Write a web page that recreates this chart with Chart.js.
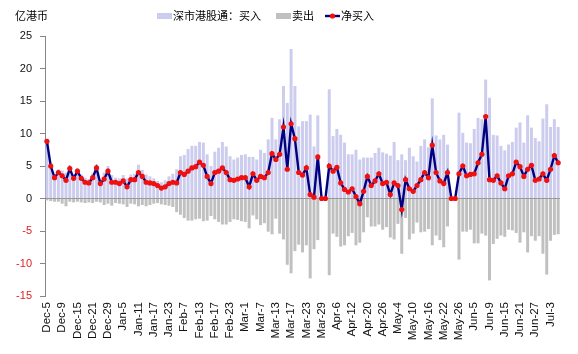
<!DOCTYPE html>
<html>
<head>
<meta charset="utf-8">
<script src="https://cdn.jsdelivr.net/npm/chart.js@4.4.0/dist/chart.umd.min.js"></script>
<style>
    body { margin: 0; background: #fff; }
    #wrap { width: 578px; height: 354px; }
</style>
</head>
<body>
<div id="wrap"><canvas id="myChart" width="578" height="354"></canvas></div>
<script>
// tick labels shown on the x axis, one every 4 trading days
var tickLabels = ['Dec-5', 'Dec-9', 'Dec-15', 'Dec-21', 'Dec-29', 'Jan-5', 'Jan-11', 'Jan-17', 'Jan-23',
    'Feb-7', 'Feb-13', 'Feb-17', 'Feb-23', 'Mar-1', 'Mar-7', 'Mar-13', 'Mar-17', 'Mar-23', 'Mar-29',
    'Apr-6', 'Apr-12', 'Apr-20', 'Apr-26', 'May-4', 'May-10', 'May-16', 'May-22', 'May-26',
    'Jun-5', 'Jun-9', 'Jun-15', 'Jun-21', 'Jun-27', 'Jul-3'];

// 深市港股通 daily buy (亿港币)
var buy = [
    9.1, 5.4, 3.7, 4.5, 4.3, 4.0, 5.1, 3.7, 4.7, 3.7,
    3.2, 3.0, 3.9, 5.2, 2.9, 4.0, 5.0, 3.6, 3.2, 3.1,
    3.6, 3.1, 3.7, 3.8, 5.2, 4.4, 3.7, 3.4, 3.1, 2.7,
    2.5, 2.8, 3.4, 3.8, 4.5, 6.5, 6.7, 7.6, 8.1, 8.1,
    8.7, 8.6, 6.8, 5.0, 7.2, 7.8, 8.7, 8.0, 6.5, 6.0,
    6.3, 6.7, 6.8, 6.4, 6.4, 6.0, 7.5, 7.0, 9.1, 12.4,
    9.1, 12.2, 17.3, 14.7, 23.0, 17.3, 11.1, 11.9, 11.9, 12.9,
    8.0, 12.8, 0, 0, 16.8, 9.6, 10.7, 9.8, 8.6, 6.8,
    6.8, 7.5, 6.0, 6.3, 6.3, 6.3, 7.0, 7.8, 7.1, 6.9,
    6.6, 8.7, 5.9, 6.8, 5.9, 7.8, 6.5, 5.7, 8.1, 9.1,
    7.9, 15.4, 9.7, 9.1, 9.8, 8.3, 0, 0, 13.2, 10.1,
    8.6, 8.5, 10.7, 12.4, 12.2, 18.3, 15.5, 9.8, 9.7, 8.1,
    7.4, 8.3, 8.7, 10.9, 11.7, 8.6, 12.8, 10.9, 9.3, 8.8,
    12.3, 14.5, 11.0, 12.2, 11.0
];

// daily sell (negative)
var sell = [
    -0.3, -0.4, -0.5, -0.5, -0.8, -1.2, -0.5, -0.6, -0.5, -0.6,
    -0.7, -0.6, -0.7, -0.5, -0.6, -1.0, -0.8, -1.1, -0.7, -0.8,
    -0.9, -1.3, -0.8, -0.9, -1.2, -1.0, -1.2, -1.0, -0.8, -0.7,
    -0.9, -1.0, -1.1, -1.3, -2.1, -2.5, -3.0, -3.4, -3.4, -3.2,
    -3.1, -3.5, -3.4, -2.7, -3.2, -3.6, -4.0, -4.0, -3.6, -3.2,
    -3.3, -3.5, -3.6, -4.6, -2.6, -3.2, -4.1, -3.8, -5.1, -5.5,
    -3.1, -5.4, -6.3, -10.2, -11.5, -8.1, -7.1, -8.3, -7.2, -12.3,
    -7.8, -6.4, 0, 0, -11.8, -5.4, -5.9, -7.4, -7.2, -5.8,
    -5.3, -7.2, -6.8, -5.2, -2.9, -4.3, -4.3, -4.0, -4.8, -4.4,
    -6.0, -6.3, -3.9, -8.5, -3.0, -6.3, -5.4, -3.7, -5.2, -5.1,
    -4.7, -7.2, -5.7, -6.4, -7.5, -4.3, 0, 0, -9.4, -5.1,
    -5.1, -4.8, -6.9, -6.9, -5.4, -5.7, -12.6, -7.0, -6.2, -5.7,
    -5.9, -4.8, -4.9, -5.3, -6.8, -5.2, -8.3, -5.8, -6.5, -5.8,
    -8.5, -11.7, -6.5, -5.6, -5.5
];

// daily net buy
var net = [
    8.8, 5.0, 3.2, 4.0, 3.5, 2.8, 4.6, 3.1, 4.2, 3.1,
    2.5, 2.4, 3.2, 4.7, 2.3, 3.0, 4.2, 2.5, 2.5, 2.3,
    2.7, 1.8, 2.9, 2.9, 4.0, 3.4, 2.5, 2.4, 2.3, 2.0,
    1.6, 1.8, 2.3, 2.5, 2.4, 4.0, 3.7, 4.2, 4.7, 4.9,
    5.6, 5.1, 3.4, 2.3, 4.0, 4.2, 4.7, 4.0, 2.9, 2.8,
    3.0, 3.2, 3.2, 1.8, 3.8, 2.8, 3.4, 3.2, 4.0, 6.9,
    6.0, 6.8, 11.0, 4.5, 11.5, 9.2, 4.0, 3.6, 4.7, 0.6,
    0.2, 6.4, 0, 0, 5.0, 4.2, 4.8, 2.4, 1.4, 1.0,
    1.5, 0.3, -0.8, 1.1, 3.4, 2.0, 2.7, 3.8, 2.3, 2.5,
    0.6, 2.4, 2.0, -1.7, 2.9, 1.5, 1.1, 2.0, 2.9, 4.0,
    3.2, 8.2, 4.0, 2.7, 2.3, 4.0, 0, 0, 3.8, 5.0,
    3.5, 3.7, 3.8, 5.5, 6.8, 12.6, 2.9, 2.8, 3.5, 2.4,
    1.5, 3.5, 3.8, 5.6, 4.9, 3.4, 4.5, 5.1, 2.8, 3.0,
    3.8, 2.8, 4.5, 6.6, 5.5
];

var seriesNames = ['深市港股通：买入', '卖出', '净买入'];
var unitLabel = '亿港币';

var categories = net.map(function (v, i) { return i; });

var cnFont = '"Noto Sans CJK SC", "Liberation Sans", sans-serif';
var numFont = '"Liberation Sans", Arial, sans-serif';
var buyColor = '#CCCCEE';
var sellColor = '#C0C0C0';
var lineColor = '#000080';
var markColor = '#F01010';

// unit text and legend, drawn by hand so they sit on the same row
var headerPlugin = {
    id: 'header',
    afterDraw: function (chart) {
        var c = chart.ctx;
        c.save();
        c.font = '11px ' + cnFont;
        c.fillStyle = '#000';
        c.textBaseline = 'middle';
        c.textAlign = 'left';
        c.fillText(unitLabel, 15, 16);

        c.fillStyle = buyColor;
        c.fillRect(157, 13, 15, 6);
        c.fillStyle = '#000';
        c.fillText(seriesNames[0], 173, 16);

        c.fillStyle = sellColor;
        c.fillRect(276, 13, 15, 6);
        c.fillStyle = '#000';
        c.fillText(seriesNames[1], 292, 16);

        c.strokeStyle = lineColor;
        c.lineWidth = 2.4;
        c.beginPath();
        c.moveTo(325, 16);
        c.lineTo(340, 16);
        c.stroke();
        c.fillStyle = markColor;
        c.beginPath();
        c.arc(332.5, 16, 2.6, 0, Math.PI * 2);
        c.fill();
        c.fillStyle = '#000';
        c.fillText(seriesNames[2], 341, 16);
        c.restore();
    }
};

var ctx = document.getElementById('myChart').getContext('2d');
var myChart = new Chart(ctx, {
    type: 'bar',
    data: {
        labels: categories,
        datasets: [
            {
                label: seriesNames[0],
                data: buy,
                backgroundColor: buyColor,
                barPercentage: 0.78,
                categoryPercentage: 1,
                order: 2
            },
            {
                label: seriesNames[1],
                data: sell,
                backgroundColor: sellColor,
                barPercentage: 0.78,
                categoryPercentage: 1,
                order: 2
            },
            {
                type: 'line',
                label: seriesNames[2],
                data: net,
                borderColor: lineColor,
                borderWidth: 2.4,
                pointRadius: 2.6,
                pointBackgroundColor: markColor,
                pointBorderWidth: 0,
                tension: 0,
                order: 0
            }
        ]
    },
    options: {
        responsive: false,
        animation: false,
        devicePixelRatio: 1,
        layout: {
            padding: { top: 36, right: 7, left: 0, bottom: 0 }
        },
        plugins: {
            legend: { display: false },
            tooltip: { enabled: false }
        },
        scales: {
            x: {
                stacked: true,
                grid: { display: false, drawTicks: false },
                border: { display: false },
                ticks: {
                    autoSkip: false,
                    minRotation: 90,
                    maxRotation: 90,
                    padding: 6,
                    color: '#111',
                    font: { family: numFont, size: 11.5 },
                    callback: function (value, index) {
                        return index % 4 === 0 ? tickLabels[index / 4] : '';
                    }
                },
                afterFit: function (scale) {
                    scale.height = 58;
                }
            },
            y: {
                min: -15,
                max: 25,
                ticks: {
                    stepSize: 5,
                    padding: 8,
                    font: { family: numFont, size: 11 },
                    color: function (c) {
                        return c.tick.value < 0 ? '#E02020' : '#111';
                    }
                },
                grid: {
                    color: function (c) {
                        return c.tick.value === 0 ? '#999999' : 'rgba(0,0,0,0)';
                    },
                    tickColor: '#868686',
                    tickLength: 5
                },
                border: { color: '#868686' },
                afterFit: function (scale) {
                    scale.width = 45;
                }
            }
        }
    },
    plugins: [headerPlugin]
});
</script>
</body>
</html>
